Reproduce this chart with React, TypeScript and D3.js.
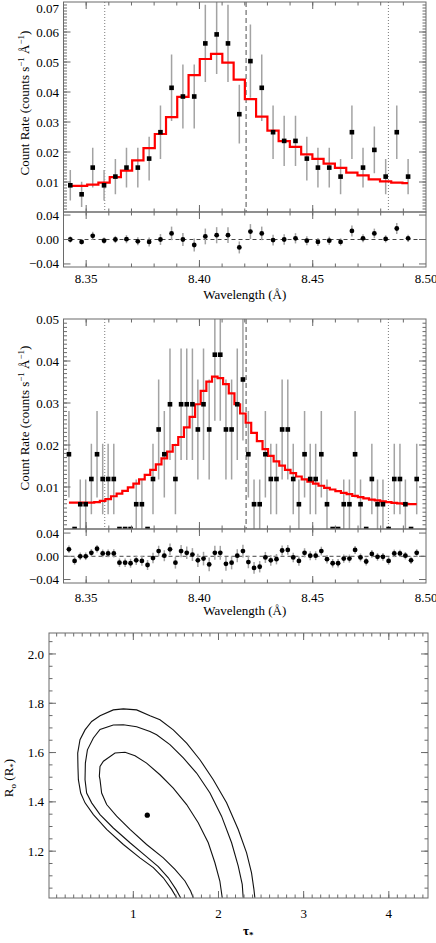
import React from 'react';
import * as d3 from 'd3';

// ---------- Panel 1 (top spectrum) ----------
const TOP_WL = [8.3430, 8.3480, 8.3529, 8.3579, 8.3629, 8.3678, 8.3728, 8.3778, 8.3828, 8.3877, 8.3927, 8.3977, 8.4026, 8.4076, 8.4126, 8.4176, 8.4225, 8.4275, 8.4325, 8.4374, 8.4424, 8.4474, 8.4523, 8.4573, 8.4623, 8.4673, 8.4722, 8.4772, 8.4822, 8.4871, 8.4921];
const TOP_RATE = [0.0089, 0.0059, 0.0148, 0.0089, 0.0118, 0.0148, 0.0148, 0.0178, 0.0266, 0.0414, 0.0385, 0.0385, 0.0562, 0.0592, 0.0562, 0.0326, 0.0503, 0.0414, 0.0266, 0.0237, 0.0237, 0.0178, 0.0148, 0.0148, 0.0118, 0.0266, 0.0148, 0.0207, 0.0118, 0.0266, 0.0118];
const TOP_ERR = [0.0051, 0.0042, 0.0066, 0.0051, 0.0059, 0.0066, 0.0066, 0.0073, 0.0089, 0.0111, 0.0107, 0.0107, 0.0129, 0.0132, 0.0129, 0.0098, 0.0122, 0.0111, 0.0089, 0.0084, 0.0084, 0.0073, 0.0066, 0.0066, 0.0059, 0.0089, 0.0066, 0.0078, 0.0059, 0.0089, 0.0059];
const TOP_MODEL = [0.0087, 0.0087, 0.0091, 0.0098, 0.0116, 0.0138, 0.0172, 0.0213, 0.0260, 0.0316, 0.0384, 0.0456, 0.0510, 0.0527, 0.0498, 0.0441, 0.0376, 0.0318, 0.0271, 0.0236, 0.0217, 0.0192, 0.0177, 0.0161, 0.0147, 0.0131, 0.0122, 0.0109, 0.0102, 0.0098, 0.0096];
const TOP_RESID = [0.000, -0.004, 0.006, -0.002, 0.000, 0.0005, -0.003, -0.004, 0.000, 0.010, 0.000, -0.009, 0.005, 0.007, 0.007, -0.013, 0.013, 0.010, -0.001, 0.000, 0.002, -0.002, -0.004, -0.002, -0.004, 0.014, 0.002, 0.010, 0.001, 0.018, 0.002];

// ---------- Panel 2 (middle spectrum) ----------
const MID_WL = [8.3424, 8.3449, 8.3474, 8.3498, 8.3523, 8.3548, 8.3573, 8.3597, 8.3622, 8.3647,
  8.3672, 8.3696, 8.3721, 8.3746, 8.3771, 8.3795, 8.3820, 8.3845, 8.3870, 8.3894,
  8.3919, 8.3944, 8.3969, 8.3993, 8.4018, 8.4043, 8.4068, 8.4092, 8.4117, 8.4142,
  8.4167, 8.4192, 8.4216, 8.4241, 8.4266, 8.4291, 8.4315, 8.4340, 8.4365, 8.4390,
  8.4414, 8.4439, 8.4464, 8.4489, 8.4513, 8.4538, 8.4563, 8.4588, 8.4612, 8.4637,
  8.4662, 8.4687, 8.4711, 8.4736, 8.4761, 8.4786, 8.4810, 8.4835, 8.4860, 8.4885,
  8.4909, 8.4934, 8.4959];
const MID_RATE = [0.0178, 0, 0.0059, 0.0059, 0.0119, 0.0178, 0.0119, 0.0119, 0.0119, 0,
  0, 0, 0.0059, 0.0059, 0, 0.0119, 0.0237, 0.0178, 0.0297, 0.0119,
  0.0297, 0.0297, 0.0297, 0.0237, 0.0297, 0.0237, 0.0415, 0.0415, 0.0237, 0.0237,
  0.0297, 0.0356, 0.0178, 0.0059, 0.0059, 0.0178, 0.0119, 0.0119, 0.0237, 0.0237,
  0.0119, 0.0059, 0.0178, 0.0119, 0.0119, 0.0178, 0.0059, 0, 0, 0.0059,
  0.0059, 0.0178, 0.0059, 0, 0.0119, 0.0059, 0.0059, 0, 0.0119, 0.0119,
  0.0059, 0, 0.0119];
const MID_ERR = [0.0103, 0, 0.0059, 0.0059, 0.0084, 0.0103, 0.0084, 0.0084, 0.0084, 0,
  0, 0, 0.0059, 0.0059, 0, 0.0084, 0.0119, 0.0103, 0.0133, 0.0084,
  0.0133, 0.0133, 0.0133, 0.0119, 0.0133, 0.0119, 0.0157, 0.0157, 0.0119, 0.0119,
  0.0133, 0.0145, 0.0103, 0.0059, 0.0059, 0.0103, 0.0084, 0.0084, 0.0119, 0.0119,
  0.0084, 0.0059, 0.0103, 0.0084, 0.0084, 0.0103, 0.0059, 0, 0, 0.0059,
  0.0059, 0.0103, 0.0059, 0, 0.0084, 0.0059, 0.0059, 0, 0.0084, 0.0084,
  0.0059, 0, 0.0084];
const MID_MODEL = [0.0063, 0.0063, 0.0063, 0.0063, 0.0063, 0.0064, 0.0067, 0.0071, 0.0078, 0.0084,
  0.0091, 0.0099, 0.0108, 0.0118, 0.0129, 0.0141, 0.0154, 0.0168, 0.0184, 0.0200,
  0.0219, 0.0242, 0.0267, 0.0297, 0.0329, 0.0351, 0.0363, 0.0359, 0.0345, 0.0323,
  0.0297, 0.0275, 0.0253, 0.0229, 0.0209, 0.0190, 0.0174, 0.0161, 0.0151, 0.0141,
  0.0133, 0.0125, 0.0118, 0.0113, 0.0108, 0.0103, 0.0098, 0.0094, 0.0090, 0.0086,
  0.0083, 0.0079, 0.0076, 0.0073, 0.0070, 0.0068, 0.0066, 0.0064, 0.0062, 0.0061,
  0.0060, 0.0059, 0.0059];
const MID_RESID = [0.012, -0.008, 0.000, 0.000, 0.006, 0.013, 0.005, 0.005, 0.005, -0.011,
  -0.011, -0.012, -0.007, -0.008, -0.015, -0.003, 0.009, 0.001, 0.012, -0.011,
  0.009, 0.006, 0.003, -0.007, -0.004, -0.014, 0.006, 0.006, -0.013, -0.011,
  0.001, 0.009, -0.010, -0.020, -0.018, -0.002, -0.007, -0.005, 0.010, 0.011,
  -0.002, -0.008, 0.006, 0.001, 0.001, 0.009, -0.005, -0.012, -0.012, -0.004,
  -0.004, 0.011, -0.002, -0.009, 0.004, -0.001, -0.001, -0.008, 0.005, 0.005,
  0.001, -0.007, 0.006];
const MID_RESID_ERR = [0.0065, 0.0065, 0.0065, 0.0065, 0.0065, 0.0065, 0.0066, 0.0068, 0.0070, 0.0072,
  0.0074, 0.0077, 0.0080, 0.0083, 0.0086, 0.0089, 0.0092, 0.0095, 0.0099, 0.0102,
  0.0105, 0.0108, 0.0111, 0.0114, 0.0117, 0.0119, 0.0120, 0.0120, 0.0118, 0.0115,
  0.0112, 0.0109, 0.0106, 0.0102, 0.0098, 0.0095, 0.0092, 0.0089, 0.0087, 0.0085,
  0.0083, 0.0081, 0.0079, 0.0078, 0.0076, 0.0075, 0.0074, 0.0073, 0.0072, 0.0071,
  0.0070, 0.0069, 0.0068, 0.0067, 0.0067, 0.0066, 0.0066, 0.0065, 0.0065, 0.0064,
  0.0064, 0.0063, 0.0063];

// reference lines (wavelengths)
const DOTTED_WL = [8.3582, 8.4834];
const DASHED_WL = [8.4206];

// ---------- Panel 3 (confidence contours) ----------
const CONTOUR_OUTER: [number, number][] = [[1.508, 1.011], [1.450, 1.045], [1.352, 1.092], [1.235, 1.133], [1.078, 1.173], [0.883, 1.227], [0.687, 1.288], [0.531, 1.348], [0.433, 1.396], [0.382, 1.436], [0.355, 1.490], [0.350, 1.540], [0.347, 1.598], [0.374, 1.652], [0.433, 1.692], [0.511, 1.726], [0.609, 1.749], [0.765, 1.773], [0.883, 1.777], [1.039, 1.773], [1.196, 1.749], [1.313, 1.733], [1.469, 1.692], [1.626, 1.638], [1.782, 1.571], [1.939, 1.490], [2.095, 1.396], [2.232, 1.288], [2.330, 1.193], [2.388, 1.112], [2.416, 1.045], [2.427, 1.011]];
const CONTOUR_MIDDLE: [number, number][] = [[1.555, 1.011], [1.501, 1.045], [1.411, 1.092], [1.293, 1.137], [1.137, 1.183], [0.961, 1.234], [0.765, 1.294], [0.609, 1.348], [0.511, 1.396], [0.452, 1.436], [0.433, 1.490], [0.437, 1.557], [0.461, 1.611], [0.531, 1.659], [0.609, 1.694], [0.765, 1.712], [0.883, 1.713], [1.039, 1.705], [1.196, 1.685], [1.274, 1.672], [1.430, 1.632], [1.587, 1.578], [1.743, 1.517], [1.900, 1.436], [2.036, 1.342], [2.154, 1.234], [2.232, 1.139], [2.279, 1.065], [2.290, 1.011]];
const CONTOUR_INNER: [number, number][] = [[1.704, 1.011], [1.673, 1.038], [1.606, 1.079], [1.489, 1.126], [1.352, 1.173], [1.156, 1.227], [0.961, 1.288], [0.804, 1.342], [0.687, 1.389], [0.628, 1.436], [0.609, 1.490], [0.601, 1.504], [0.609, 1.544], [0.649, 1.565], [0.785, 1.598], [0.903, 1.601], [1.020, 1.587], [1.156, 1.557], [1.313, 1.510], [1.469, 1.456], [1.626, 1.389], [1.762, 1.315], [1.880, 1.234], [1.958, 1.153], [2.016, 1.079], [2.044, 1.011]];
const BEST_FIT: [number, number] = [1.164, 1.346];

const WL_TICKS = [8.35, 8.40, 8.45, 8.50];
const TAU_TICKS = [1, 2, 3, 4];
const R_TICKS = [1.2, 1.4, 1.6, 1.8, 2.0];
const RESID_TICKS = [-0.04, 0.0, 0.04];

const FONT = "'Liberation Serif', 'Times New Roman', Times, serif";
const AX = '#6a6a6a';

function steps(lo: number, hi: number, step: number): number[] {
  const out: number[] = [];
  const k0 = Math.ceil(lo / step - 1e-6);
  const k1 = Math.floor(hi / step + 1e-6);
  for (let k = k0; k <= k1; k++) out.push(+(k * step).toFixed(6));
  return out;
}

type Sc = d3.ScaleLinear<number, number>;

function Frame({ x, y, xMaj, xMin, yMaj, yMin, maj = 7, min = 3.5 }: { x: Sc; y: Sc; xMaj: number[]; xMin: number[]; yMaj: number[]; yMin: number[]; maj?: number; min?: number }) {
  const [x0, x1] = x.range();
  const [yb, yt] = y.range();
  const els: React.ReactElement[] = [];
  let k = 0;
  const L = (a: number, b: number, c: number, d: number) => els.push(<line key={k++} x1={a} y1={b} x2={c} y2={d} />);
  const xd = x.domain();
  const yd = y.domain();
  const inX = (v: number) => v > Math.min(...xd) + 1e-9 && v < Math.max(...xd) - 1e-9;
  const inY = (v: number) => v > Math.min(...yd) + 1e-9 && v < Math.max(...yd) - 1e-9;
  xMaj.filter(inX).forEach(v => { const p = x(v); L(p, yb, p, yb - maj); L(p, yt, p, yt + maj); });
  xMin.filter(inX).forEach(v => { const p = x(v); L(p, yb, p, yb - min); L(p, yt, p, yt + min); });
  yMaj.filter(inY).forEach(v => { const p = y(v); L(x0, p, x0 + maj, p); L(x1, p, x1 - maj, p); });
  yMin.filter(inY).forEach(v => { const p = y(v); L(x0, p, x0 + min, p); L(x1, p, x1 - min, p); });
  return (
    <g stroke={AX} strokeWidth={1} fill="none">
      {els}
      <rect x={x0} y={yt} width={x1 - x0} height={yb - yt} />
    </g>
  );
}

function CountLabel({ cx, cy }: { cx: number; cy: number }) {
  return (
    <text transform={`translate(${cx},${cy}) rotate(-90)`} textAnchor="middle" fontSize={13} fontFamily={FONT} fill="#000">
      Count Rate (counts s<tspan fontSize={9} dy={-5}>−1</tspan><tspan dy={5}> Å</tspan><tspan fontSize={9} dy={-5}>−1</tspan><tspan dy={5}>)</tspan>
    </text>
  );
}

function Spectrum(p: {
  id: string; wl: number[]; rate: number[]; err: number[]; model: number[]; resid: number[]; residErr: number[];
  yMax: number; top: number; mid: number; bottom: number; residDom: [number, number];
  tickY: number; titleY: number; labelY: number;
}) {
  const x = d3.scaleLinear().domain([8.34, 8.50]).range([63.5, 426]);
  const y = d3.scaleLinear().domain([0, p.yMax]).range([p.mid, p.top]);
  const r = d3.scaleLinear().domain(p.residDom).range([p.bottom, p.mid]);
  const stepLine = d3.line<number>().x((_, i) => x(p.wl[i])).y(d => y(d)).curve(d3.curveStep);
  const fmt = d3.format('.2f');
  const sq = 4.6;
  const clip = `clip-${p.id}`;
  return (
    <g>
      <defs>
        <clipPath id={clip}>
          <rect x={63.5} y={p.top} width={426 - 63.5} height={p.mid - p.top} />
        </clipPath>
      </defs>
      <g clipPath={`url(#${clip})`}>
        {DOTTED_WL.map((w, i) => (
          <line key={'dt' + i} x1={x(w)} x2={x(w)} y1={p.top} y2={p.mid} stroke="#7a7a7a" strokeWidth={1} strokeDasharray="1,2" />
        ))}
        {DASHED_WL.map((w, i) => (
          <line key={'ds' + i} x1={x(w)} x2={x(w)} y1={p.top} y2={p.mid} stroke="#777" strokeWidth={1.3} strokeDasharray="5,3" />
        ))}
        {p.rate.map((v, i) => p.err[i] > 0 ? (
          <line key={'e' + i} x1={x(p.wl[i])} x2={x(p.wl[i])} y1={y(v - p.err[i])} y2={y(v + p.err[i])} stroke="#a3a3a3" strokeWidth={1.5} />
        ) : null)}
        <path d={stepLine(p.model) || ''} fill="none" stroke="#ff0000" strokeWidth={2.2} />
        {p.rate.map((v, i) => (
          <rect key={'s' + i} x={x(p.wl[i]) - sq / 2} y={y(v) - sq / 2} width={sq} height={sq} fill="#000" />
        ))}
      </g>
      <Frame x={x} y={y} xMaj={WL_TICKS} xMin={steps(8.34, 8.5, 0.01)} yMaj={steps(0, p.yMax, 0.01)} yMin={steps(0, p.yMax, 0.001)} />
      {steps(0.01, p.yMax, 0.01).map(v => (
        <text key={'yl' + v} x={59} y={Math.max(y(v), 8)} dy="0.35em" textAnchor="end" fontSize={13} fontFamily={FONT}>{fmt(v)}</text>
      ))}
      <CountLabel cx={28.5} cy={p.labelY} />

      {/* residuals */}
      <line x1={63.5} x2={426} y1={r(0)} y2={r(0)} stroke="#444" strokeWidth={1} strokeDasharray="4,3" />
      {p.resid.map((v, i) => (
        <line key={'re' + i} x1={x(p.wl[i])} x2={x(p.wl[i])} y1={r(v - p.residErr[i])} y2={r(v + p.residErr[i])} stroke="#a3a3a3" strokeWidth={1.5} />
      ))}
      {p.resid.map((v, i) => (
        <circle key={'rc' + i} cx={x(p.wl[i])} cy={r(v)} r={2.4} fill="#000" />
      ))}
      <Frame x={x} y={r} xMaj={WL_TICKS} xMin={steps(8.34, 8.5, 0.01)} yMaj={RESID_TICKS} yMin={[]} />
      {RESID_TICKS.map(v => (
        <text key={'rl' + v} x={59} y={r(v)} dy="0.35em" textAnchor="end" fontSize={13} fontFamily={FONT}>{v < 0 ? '−' + fmt(-v) : fmt(v)}</text>
      ))}
      {WL_TICKS.map(v => (
        <text key={'xl' + v} x={x(v)} y={p.tickY} textAnchor="middle" fontSize={13} fontFamily={FONT}>{fmt(v)}</text>
      ))}
      <text x={(63.5 + 426) / 2} y={p.titleY} textAnchor="middle" fontSize={13} fontFamily={FONT}>Wavelength (Å)</text>
    </g>
  );
}

function Contours() {
  const x = d3.scaleLinear().domain([0.01, 4.46]).range([49, 428]);
  const y = d3.scaleLinear().domain([1.01, 2.085]).range([898, 633]);
  const line = d3.line<[number, number]>().x(d => x(d[0])).y(d => y(d[1])).curve(d3.curveLinear);
  return (
    <g>
      {[CONTOUR_OUTER, CONTOUR_MIDDLE, CONTOUR_INNER].map((c, i) => (
        <path key={i} d={line(c) || ''} fill="none" stroke="#111" strokeWidth={1.1} />
      ))}
      <circle cx={x(BEST_FIT[0])} cy={y(BEST_FIT[1])} r={2.6} fill="#000" />
      <Frame x={x} y={y} xMaj={TAU_TICKS} xMin={steps(0.1, 4.4, 0.1)} yMaj={R_TICKS} yMin={steps(1.05, 2.05, 0.05)} />
      {TAU_TICKS.map(v => (
        <text key={'tx' + v} x={x(v)} y={918} textAnchor="middle" fontSize={13} fontFamily={FONT}>{v}</text>
      ))}
      {R_TICKS.map(v => (
        <text key={'ty' + v} x={44} y={y(v)} dy="0.35em" textAnchor="end" fontSize={13} fontFamily={FONT}>{v.toFixed(1)}</text>
      ))}
      <text x={x(2.35)} y={935} textAnchor="middle" fontSize={13} fontFamily={FONT} fontWeight="bold">
        τ<tspan fontSize={9} dy={3}>*</tspan>
      </text>
      <text transform={`translate(13,778) rotate(-90)`} textAnchor="middle" fontSize={13} fontFamily={FONT}>
        R<tspan fontSize={9} dy={3}>o</tspan><tspan dy={-3}> (R</tspan><tspan fontSize={9} dy={3}>*</tspan><tspan dy={-3}>)</tspan>
      </text>
    </g>
  );
}

export default function App() {
  return (
    <div style={{ position: 'absolute', left: 0, top: 0, width: 436, height: 943, background: '#fff' }}>
      <svg width={436} height={943} viewBox="0 0 436 943" style={{ display: 'block', fontFamily: FONT }}>
        <rect x={0} y={0} width={436} height={943} fill="#fff" />
        <Spectrum id="a" wl={TOP_WL} rate={TOP_RATE} err={TOP_ERR} model={TOP_MODEL} resid={TOP_RESID} residErr={TOP_ERR}
          yMax={0.07} top={2} mid={212} bottom={267} residDom={[-0.045, 0.045]} tickY={283} titleY={299} labelY={103} />
        <Spectrum id="b" wl={MID_WL} rate={MID_RATE} err={MID_ERR} model={MID_MODEL} resid={MID_RESID} residErr={MID_RESID_ERR}
          yMax={0.05} top={319} mid={529} bottom={583} residDom={[-0.046, 0.047]} tickY={602} titleY={615} labelY={418} />
        <Contours />
      </svg>
    </div>
  );
}
